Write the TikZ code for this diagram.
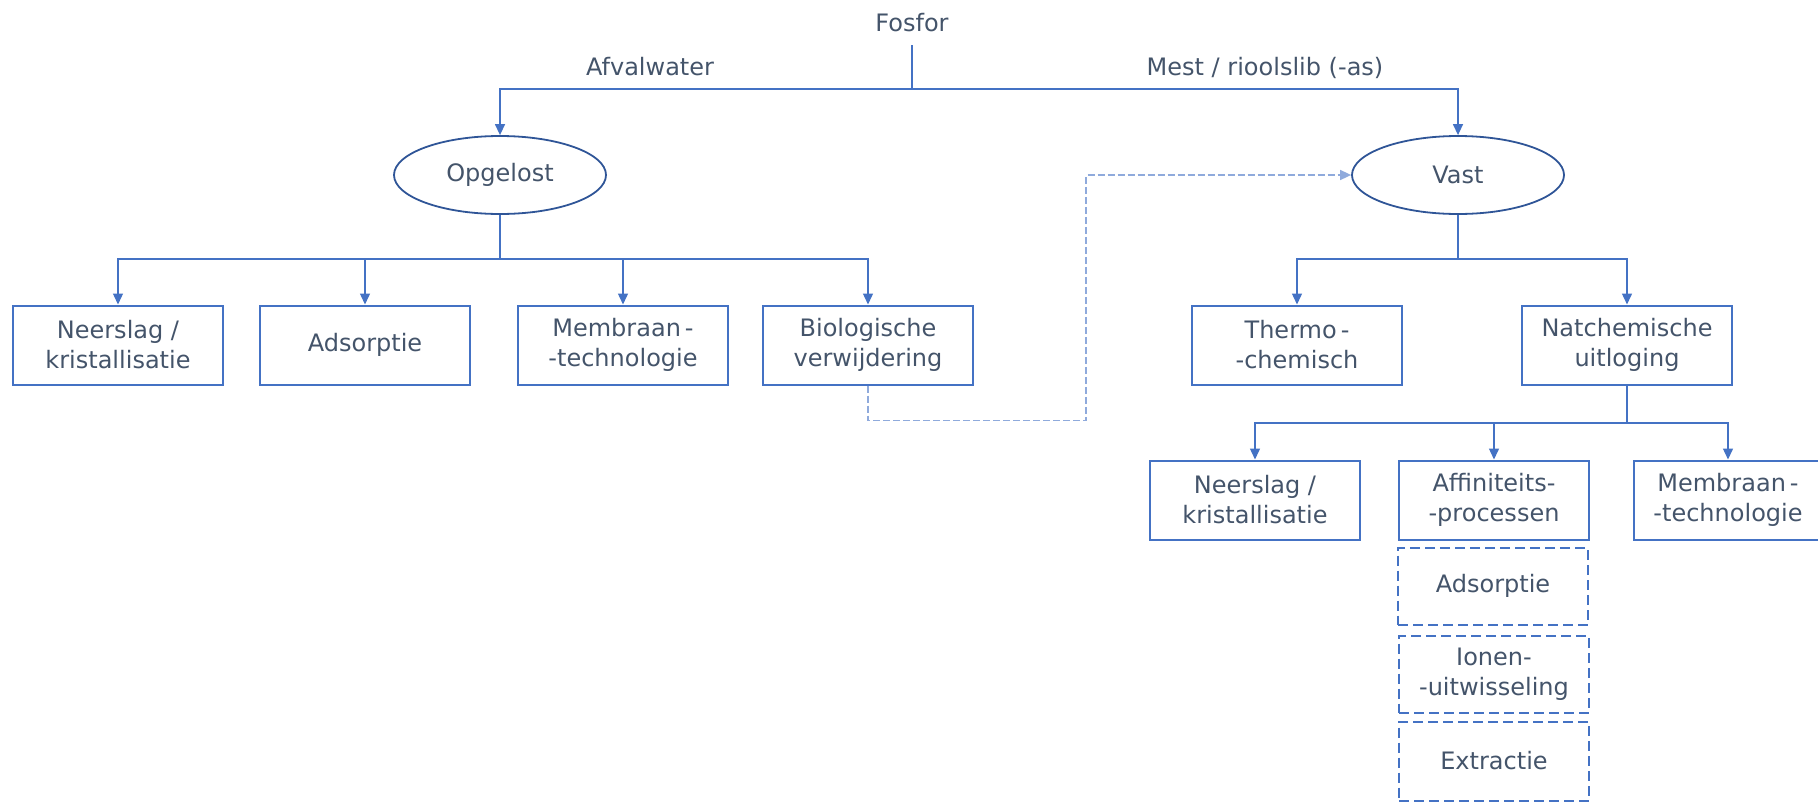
\documentclass[tikz,border=0pt]{standalone}
\usepackage{fontspec}
\setmainfont{DejaVu Sans}
\usetikzlibrary{shapes.geometric,arrows.meta}
\definecolor{lineblue}{HTML}{4472C4}
\definecolor{ovalblue}{HTML}{2F5597}
\definecolor{dashblue}{HTML}{8FAADC}
\definecolor{txtgray}{HTML}{44546A}
\tikzset{
  every node/.style={text=txtgray,font=\fontsize{24}{30}\selectfont},
  label/.style={inner sep=0pt,anchor=base},
  oval/.style={ellipse,draw=ovalblue,line width=1.8pt,minimum width=212pt,minimum height=78pt,inner sep=0pt},
  box/.style={rectangle,draw=lineblue,line width=2pt,minimum width=210pt,minimum height=79pt,align=center,inner sep=0pt},
  dashbox/.style={box,dash pattern=on 10pt off 5pt},
  conn/.style={draw=lineblue,line width=1.4pt},
  arr/.style={conn,-{Triangle[width=10pt,length=11pt]}},
  dasharr/.style={draw=dashblue,line width=1.6pt,dash pattern=on 7pt off 3pt,-{Triangle[width=10pt,length=11pt]}}
}
\begin{document}
\begin{tikzpicture}[x=1pt,y=-1pt]
  \useasboundingbox (0,0) rectangle (1818,801);
  \node[inner sep=0pt,minimum height=44pt] (fosfor) at (912,23) {Fosfor};
  \node[label] (afval) at (650,75) {Afvalwater};
  \node[label] (mest) at (1265,75) {Mest / rioolslib (-as)};
  \node[oval] (opgelost) at (500,175) {Opgelost};
  \node[oval] (vast) at (1458,175) {Vast};

  \node[box] (neerslag) at (118,345) {Neerslag /\\kristallisatie};
  \node[box] (adsorptie) at (365,345) {Adsorptie};
  \node[box] (membraan) at (623,345) {Membraan\,-\\-technologie};
  \node[box] (bio) at (868,345) {Biologische\\verwijdering};
  \node[box] (thermo) at (1297,345) {Thermo\,-\\-chemisch};
  \node[box] (natch) at (1627,345) {Natchemische\\uitloging};

  \node[box] (neerslagb) at (1255,500) {Neerslag /\\kristallisatie};
  \node[box,minimum width=190pt] (affin) at (1494,500) {Affiniteits-\\-processen};
  \node[box,minimum width=188pt] (membraanb) at (1728,500) {Membraan\,-\\-technologie};
  \node[dashbox,minimum width=190pt,minimum height=77pt] (adsb) at (1493,586) {Adsorptie};
  \node[dashbox,minimum width=190pt,minimum height=77pt] (ionen) at (1494,674) {Ionen-\\-uitwisseling};
  \node[dashbox,minimum width=190pt,minimum height=79pt] (extr) at (1494,761) {Extractie};

  \coordinate (fork) at (912,89);
  \coordinate (ofork) at (500,259);
  \coordinate (vfork) at (1458,259);
  \coordinate (nfork) at (1627,423);
  \coordinate (turn) at (1086,175);

  \draw[conn] (fosfor.south) -- (fork);
  \draw[arr] (fork) -| (opgelost.north);
  \draw[arr] (fork) -| (vast.north);

  \draw[conn,line width=2pt] (opgelost.south) -- (ofork);
  \foreach \n in {neerslag,adsorptie,membraan,bio}
    \draw[arr] (ofork) -| (\n.north);

  \draw[conn,line width=2pt] (vast.south) -- (vfork);
  \foreach \n in {thermo,natch}
    \draw[arr] (vfork) -| (\n.north);

  \draw[conn,line width=2pt] (natch.south) -- (nfork);
  \foreach \n in {neerslagb,affin,membraanb}
    \draw[arr] (nfork) -| (\n.north);

  \draw[dasharr] (bio.south) -- ++(0,35) -| (turn) -- (vast.west);
\end{tikzpicture}
\end{document}
